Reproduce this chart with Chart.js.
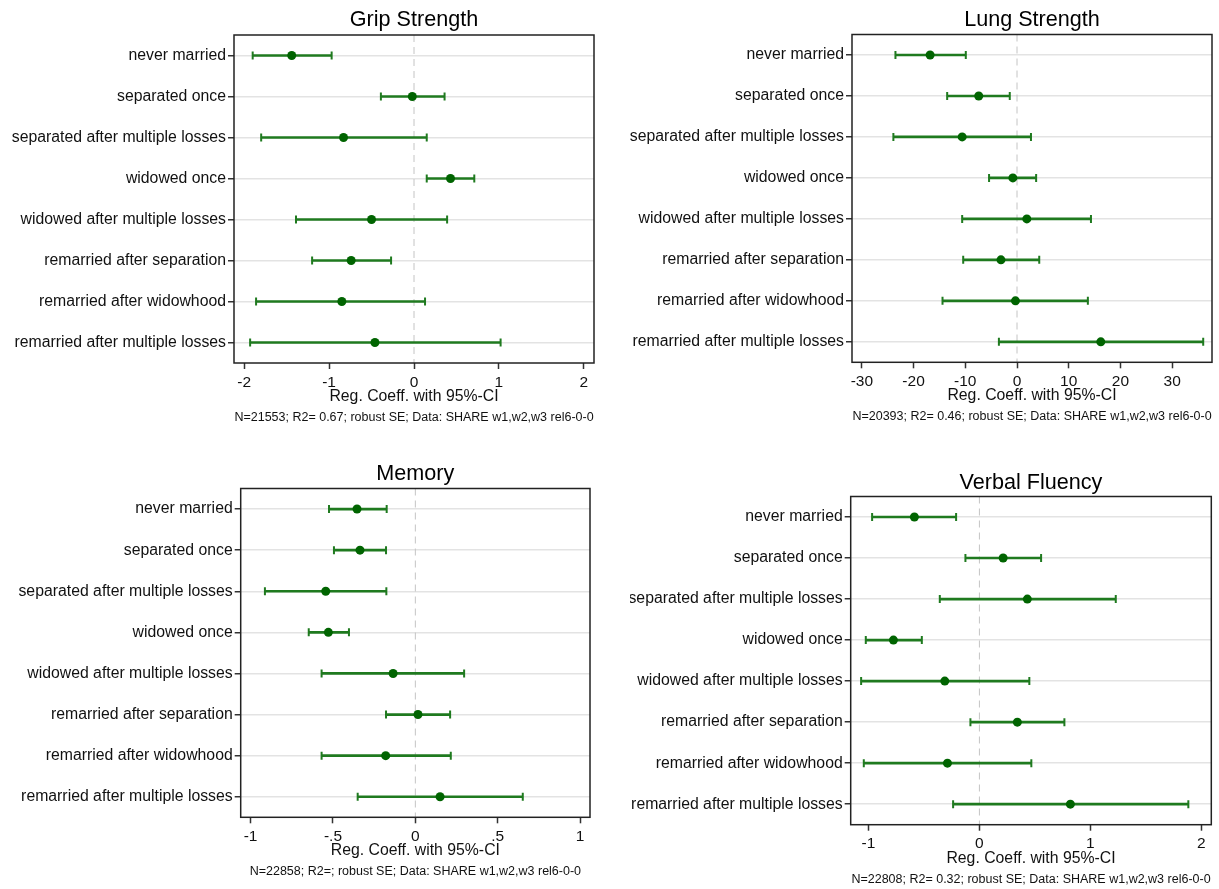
<!DOCTYPE html>
<html>
<head>
<meta charset="utf-8">
<script src="https://cdn.jsdelivr.net/npm/chart.js@4/dist/chart.umd.min.js"></script>
<style>
  html, body { margin: 0; padding: 0; background: #ffffff; }
  body { width: 1219px; height: 889px; position: relative; overflow: hidden; }
  canvas { position: absolute; }
</style>
</head>
<body>
<canvas id="c1" width="620" height="440" style="left:0px;top:0px"></canvas>
<canvas id="c2" width="589" height="440" style="left:630px;top:0px"></canvas>
<canvas id="c3" width="620" height="449" style="left:0px;top:440px"></canvas>
<canvas id="c4" width="589" height="449" style="left:630px;top:440px"></canvas>
<script>
// ---------------- DATA ----------------
const categories = [
  "never married",
  "separated once",
  "separated after multiple losses",
  "widowed once",
  "widowed after multiple losses",
  "remarried after separation",
  "remarried after widowhood",
  "remarried after multiple losses"
];

const gripCoef = [-1.44, -0.02, -0.83, 0.43, -0.50, -0.74, -0.85, -0.46];
const gripLow  = [-1.90, -0.39, -1.80, 0.15, -1.39, -1.20, -1.86, -1.93];
const gripHigh = [-0.97,  0.36,  0.15, 0.71,  0.39, -0.27,  0.13,  1.02];
const gripTicks = [-2, -1, 0, 1, 2];

const lungCoef = [-16.8, -7.4, -10.6, -0.8,  1.9, -3.1, -0.3, 16.2];
const lungLow  = [-23.5, -13.5, -23.9, -5.4, -10.6, -10.4, -14.4, -3.5];
const lungHigh = [-9.9,  -1.4,   2.7,  3.7,  14.3,   4.3,  13.7, 36.0];
const lungTicks = [-30, -20, -10, 0, 10, 20, 30];

const memoryCoef = [-0.354, -0.336, -0.544, -0.528, -0.135, 0.016, -0.180, 0.150];
const memoryLow  = [-0.524, -0.494, -0.913, -0.647, -0.569, -0.178, -0.569, -0.350];
const memoryHigh = [-0.174, -0.178, -0.176, -0.403,  0.296,  0.211,  0.215,  0.652];
const memoryTicks = [-1, -0.5, 0, 0.5, 1];

const verbalCoef = [-0.586, 0.214, 0.432, -0.775, -0.312, 0.342, -0.288, 0.820];
const verbalLow  = [-0.967, -0.126, -0.357, -1.024, -1.066, -0.081, -1.042, -0.237];
const verbalHigh = [-0.210,  0.556,  1.229, -0.519,  0.450,  0.766,  0.468,  1.883];
const verbalTicks = [-1, 0, 1, 2];

const titles = ["Grip Strength", "Lung Strength", "Memory", "Verbal Fluency"];
const xAxisTitle = "Reg. Coeff. with 95%-CI";
const notes = [
  "N=21553; R2= 0.67; robust SE; Data: SHARE w1,w2,w3 rel6-0-0",
  "N=20393; R2= 0.46; robust SE; Data: SHARE w1,w2,w3 rel6-0-0",
  "N=22858; R2=; robust SE; Data: SHARE w1,w2,w3 rel6-0-0",
  "N=22808; R2= 0.32; robust SE; Data: SHARE w1,w2,w3 rel6-0-0"
];

// ---------------- STYLE / LAYOUT ----------------
Chart.defaults.font.family = "'Liberation Sans', Arial, sans-serif";
Chart.defaults.color = "#111111";

const CI_COLOR = "#1f7a1f";
const DOT_COLOR = "#006400";
const FONT_LBL = 15.8;
const FONT_TICK = 15.5;
const X_AXIS_H = 43.3;

const panels = [
  { id: "c1", title: titles[0], note: notes[0], coef: gripCoef, low: gripLow, high: gripHigh, ticks: gripTicks,
    xmin: -2.12, xmax: 2.12, yW: 234, padR: 26, titlePad: {top: 8.5, bottom: 2.5}, padB: 15 },
  { id: "c2", title: titles[1], note: notes[1], coef: lungCoef, low: lungLow, high: lungHigh, ticks: lungTicks,
    xmin: -31.9, xmax: 37.7, yW: 222, padR: 7, titlePad: {top: 8.5, bottom: 2}, padB: 15.7 },
  { id: "c3", title: titles[2], note: notes[2], coef: memoryCoef, low: memoryLow, high: memoryHigh, ticks: memoryTicks,
    xmin: -1.06, xmax: 1.06, yW: 240.7, padR: 30, titlePad: {top: 22.2, bottom: 2.3}, padB: 9.7 },
  { id: "c4", title: titles[3], note: notes[3], coef: verbalCoef, low: verbalLow, high: verbalHigh, ticks: verbalTicks,
    xmin: -1.16, xmax: 2.09, yW: 220.7, padR: 7.7, titlePad: {top: 30.8, bottom: 1.7}, padB: 2.3 }
];

function fmtTick(v) {
  // Stata-style: drop leading zero (".5", "-.5")
  return String(v).replace(/^(-?)0\./, "$1.");
}

const framePlugin = {
  id: "frameAndZero",
  beforeDatasetsDraw(chart) {
    const {ctx, chartArea: a, scales: {x}} = chart;
    const px = x.getPixelForValue(0);
    ctx.save();
    ctx.strokeStyle = "#c4c4c4";
    ctx.lineWidth = 1;
    ctx.setLineDash([7, 5]);
    ctx.beginPath();
    ctx.moveTo(px, a.top);
    ctx.lineTo(px, a.bottom);
    ctx.stroke();
    ctx.restore();
  },
  afterDraw(chart) {
    const {ctx, chartArea: a} = chart;
    ctx.save();
    ctx.strokeStyle = "#222222";
    ctx.lineWidth = 1.5;
    ctx.strokeRect(a.left, a.top, a.right - a.left, a.bottom - a.top);
    ctx.restore();
  }
};

panels.forEach(p => {
  const rows = categories.map((c, i) => i + 1);
  const ciData = rows.map((r, i) => ({ y: r, x: [p.low[i], p.high[i]] }));
  const capData = rows.flatMap((r, i) => [{ x: p.low[i], y: r }, { x: p.high[i], y: r }]);
  const dotData = rows.map((r, i) => ({ x: p.coef[i], y: r }));

  new Chart(document.getElementById(p.id), {
    type: "bar",
    data: {
      datasets: [
        { type: "scatter", data: dotData, order: 0, pointRadius: 4.5, pointHoverRadius: 4.5,
          backgroundColor: DOT_COLOR, borderWidth: 0 },
        { type: "scatter", data: capData, order: 1, pointStyle: "line", rotation: 90,
          pointRadius: 4, pointHoverRadius: 4, borderColor: CI_COLOR, borderWidth: 2 },
        { type: "bar", indexAxis: "y", data: ciData, order: 2, barThickness: 2,
          backgroundColor: CI_COLOR, borderWidth: 0, borderSkipped: false }
      ]
    },
    options: {
      responsive: false,
      animation: false,
      devicePixelRatio: 1,
      events: [],
      layout: { padding: { left: 0, right: p.padR, top: 0, bottom: p.padB } },
      plugins: {
        legend: { display: false },
        tooltip: { enabled: false },
        title: {
          display: true, text: p.title, fullSize: false, color: "#000000",
          font: { size: 21.6, weight: "normal", lineHeight: "24px" },
          padding: p.titlePad
        },
        subtitle: {
          display: true, text: p.note, position: "bottom", fullSize: false, color: "#111111",
          font: { size: 12.5, weight: "normal", lineHeight: "15px" },
          padding: { top: 3.7, bottom: 0 }
        }
      },
      scales: {
        x: {
          type: "linear", position: "bottom", min: p.xmin, max: p.xmax, offset: false,
          afterBuildTicks: s => { s.ticks = p.ticks.map(v => ({ value: v })); },
          afterFit: s => { s.height = X_AXIS_H; },
          grid: { offset: false, drawOnChartArea: false, drawTicks: true, tickLength: 6,
                  tickColor: "#333333", tickWidth: 1.5 },
          border: { display: false },
          ticks: { padding: 4, color: "#111111", font: { size: FONT_TICK }, maxRotation: 0,
                   autoSkip: false, callback: v => fmtTick(v) },
          title: { display: true, text: xAxisTitle, color: "#111111", font: { size: FONT_LBL }, padding: 0 }
        },
        y: {
          type: "linear", position: "left", min: 0.5, max: 8.5, reverse: true, offset: false,
          afterBuildTicks: s => { s.ticks = rows.map(v => ({ value: v })); },
          afterFit: s => { s.width = p.yW; },
          grid: { offset: false, drawOnChartArea: true, color: "#e3e3e3", lineWidth: 1.5,
                  drawTicks: true, tickLength: 6, tickColor: "#333333", tickWidth: 1.5 },
          border: { display: false },
          ticks: { padding: 2, color: "#111111", font: { size: FONT_LBL }, autoSkip: false,
                   callback: v => categories[Math.round(v) - 1] || "" }
        }
      }
    },
    plugins: [framePlugin]
  });
});
</script>
</body>
</html>
